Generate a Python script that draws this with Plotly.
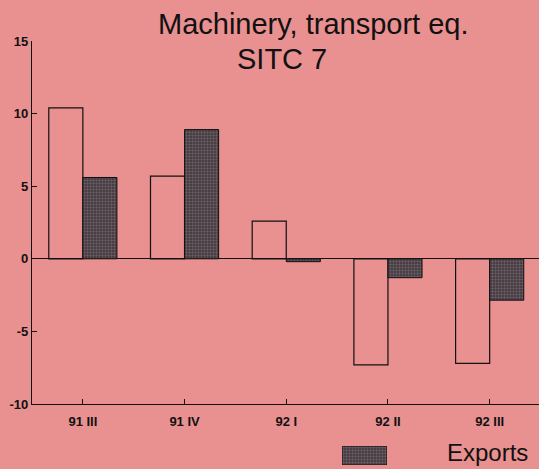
import plotly.graph_objects as go

CATEGORIES = ["91 III", "91 IV", "92 I", "92 II", "92 III"]
IMPORTS = [10.4, 5.7, 2.6, -7.3, -7.2]
EXPORTS = [5.6, 8.9, -0.2, -1.3, -2.85]
Y_TICKS = [-10, -5, 0, 5, 10, 15]
Y_LABELS = ["-10", "-5", "0", "5", "10", "15"]
TITLE_1 = "Machinery, transport eq."
TITLE_2 = "SITC 7"
LEGEND_LABEL = "Exports"

BG = "#E99090"
FONT = "Liberation Sans"
W, H = 539, 469

pattern = dict(shape=".", fgcolor="#9a8890", bgcolor="#3b3338", size=3, solidity=0.5)

fig = go.Figure()
fig.add_trace(go.Bar(
    x=CATEGORIES, y=IMPORTS, name="Imports", showlegend=False,
    offset=-0.335, width=0.335,
    marker=dict(color="rgba(0,0,0,0)", line=dict(color="#111", width=1.2)),
))
fig.add_trace(go.Bar(
    x=CATEGORIES, y=EXPORTS, name=LEGEND_LABEL, showlegend=False,
    offset=0.0, width=0.335,
    marker=dict(color="#3b3338", pattern=pattern, line=dict(color="#111", width=1)),
))
# legend key swatch on its own small axes
fig.add_trace(go.Bar(
    x=[0], y=[1], xaxis="x2", yaxis="y2", showlegend=False, width=1,
    marker=dict(color="#3b3338", pattern=pattern, line=dict(color="#111", width=1)),
    hoverinfo="skip",
))

fig.update_layout(
    width=W, height=H,
    margin=dict(l=0, r=0, t=0, b=0, pad=0, autoexpand=False),
    paper_bgcolor=BG, plot_bgcolor=BG,
    showlegend=False,
    barmode="overlay",
    font=dict(family=FONT, color="#111"),
    xaxis=dict(
        domain=[32 / W, 1], range=[-0.5, 4.485],
        showline=True, linecolor="#111", linewidth=1.2,
        ticks="inside", ticklen=5, tickcolor="#111",
        tickfont=dict(size=13, weight="bold", family=FONT),
        ticklabelstandoff=5,
        showgrid=False, zeroline=False, anchor="y", automargin=False,
    ),
    yaxis=dict(
        domain=[1 - 404 / H, 1 - 41 / H], range=[-10, 15],
        tickvals=Y_TICKS, ticktext=Y_LABELS,
        showline=True, linecolor="#111", linewidth=1.2,
        ticks="inside", ticklen=5, tickcolor="#111",
        tickfont=dict(size=13, weight="bold", family=FONT),
        showgrid=False, zeroline=True, zerolinecolor="#111", zerolinewidth=1.2,
        anchor="x", automargin=False,
    ),
    xaxis2=dict(domain=[342 / W, 387 / W], range=[-0.5, 0.5], visible=False, anchor="y2"),
    yaxis2=dict(domain=[1 - 465 / H, 1 - 446 / H], range=[0, 1], visible=False, anchor="x2"),
    annotations=[
        dict(text=TITLE_1, x=313.5 / W, y=1 - 24 / H, xref="paper", yref="paper",
             xanchor="center", yanchor="middle", showarrow=False,
             font=dict(size=29, family=FONT, color="#111")),
        dict(text=TITLE_2, x=282 / W, y=1 - 59 / H, xref="paper", yref="paper",
             xanchor="center", yanchor="middle", showarrow=False,
             font=dict(size=29, family=FONT, color="#111")),
        dict(text=LEGEND_LABEL, x=445 / W, y=1 - 452 / H, xref="paper", yref="paper",
             xanchor="left", yanchor="middle", showarrow=False,
             font=dict(size=24, family=FONT, color="#111")),
    ],
)

fig.write_html(
    "out.html",
    config={"displayModeBar": False},
    post_script="document.body.style.margin='0';document.body.style.padding='0';"
                "document.body.style.background='" + BG + "';"
                "document.documentElement.style.overflow='hidden';",
)
